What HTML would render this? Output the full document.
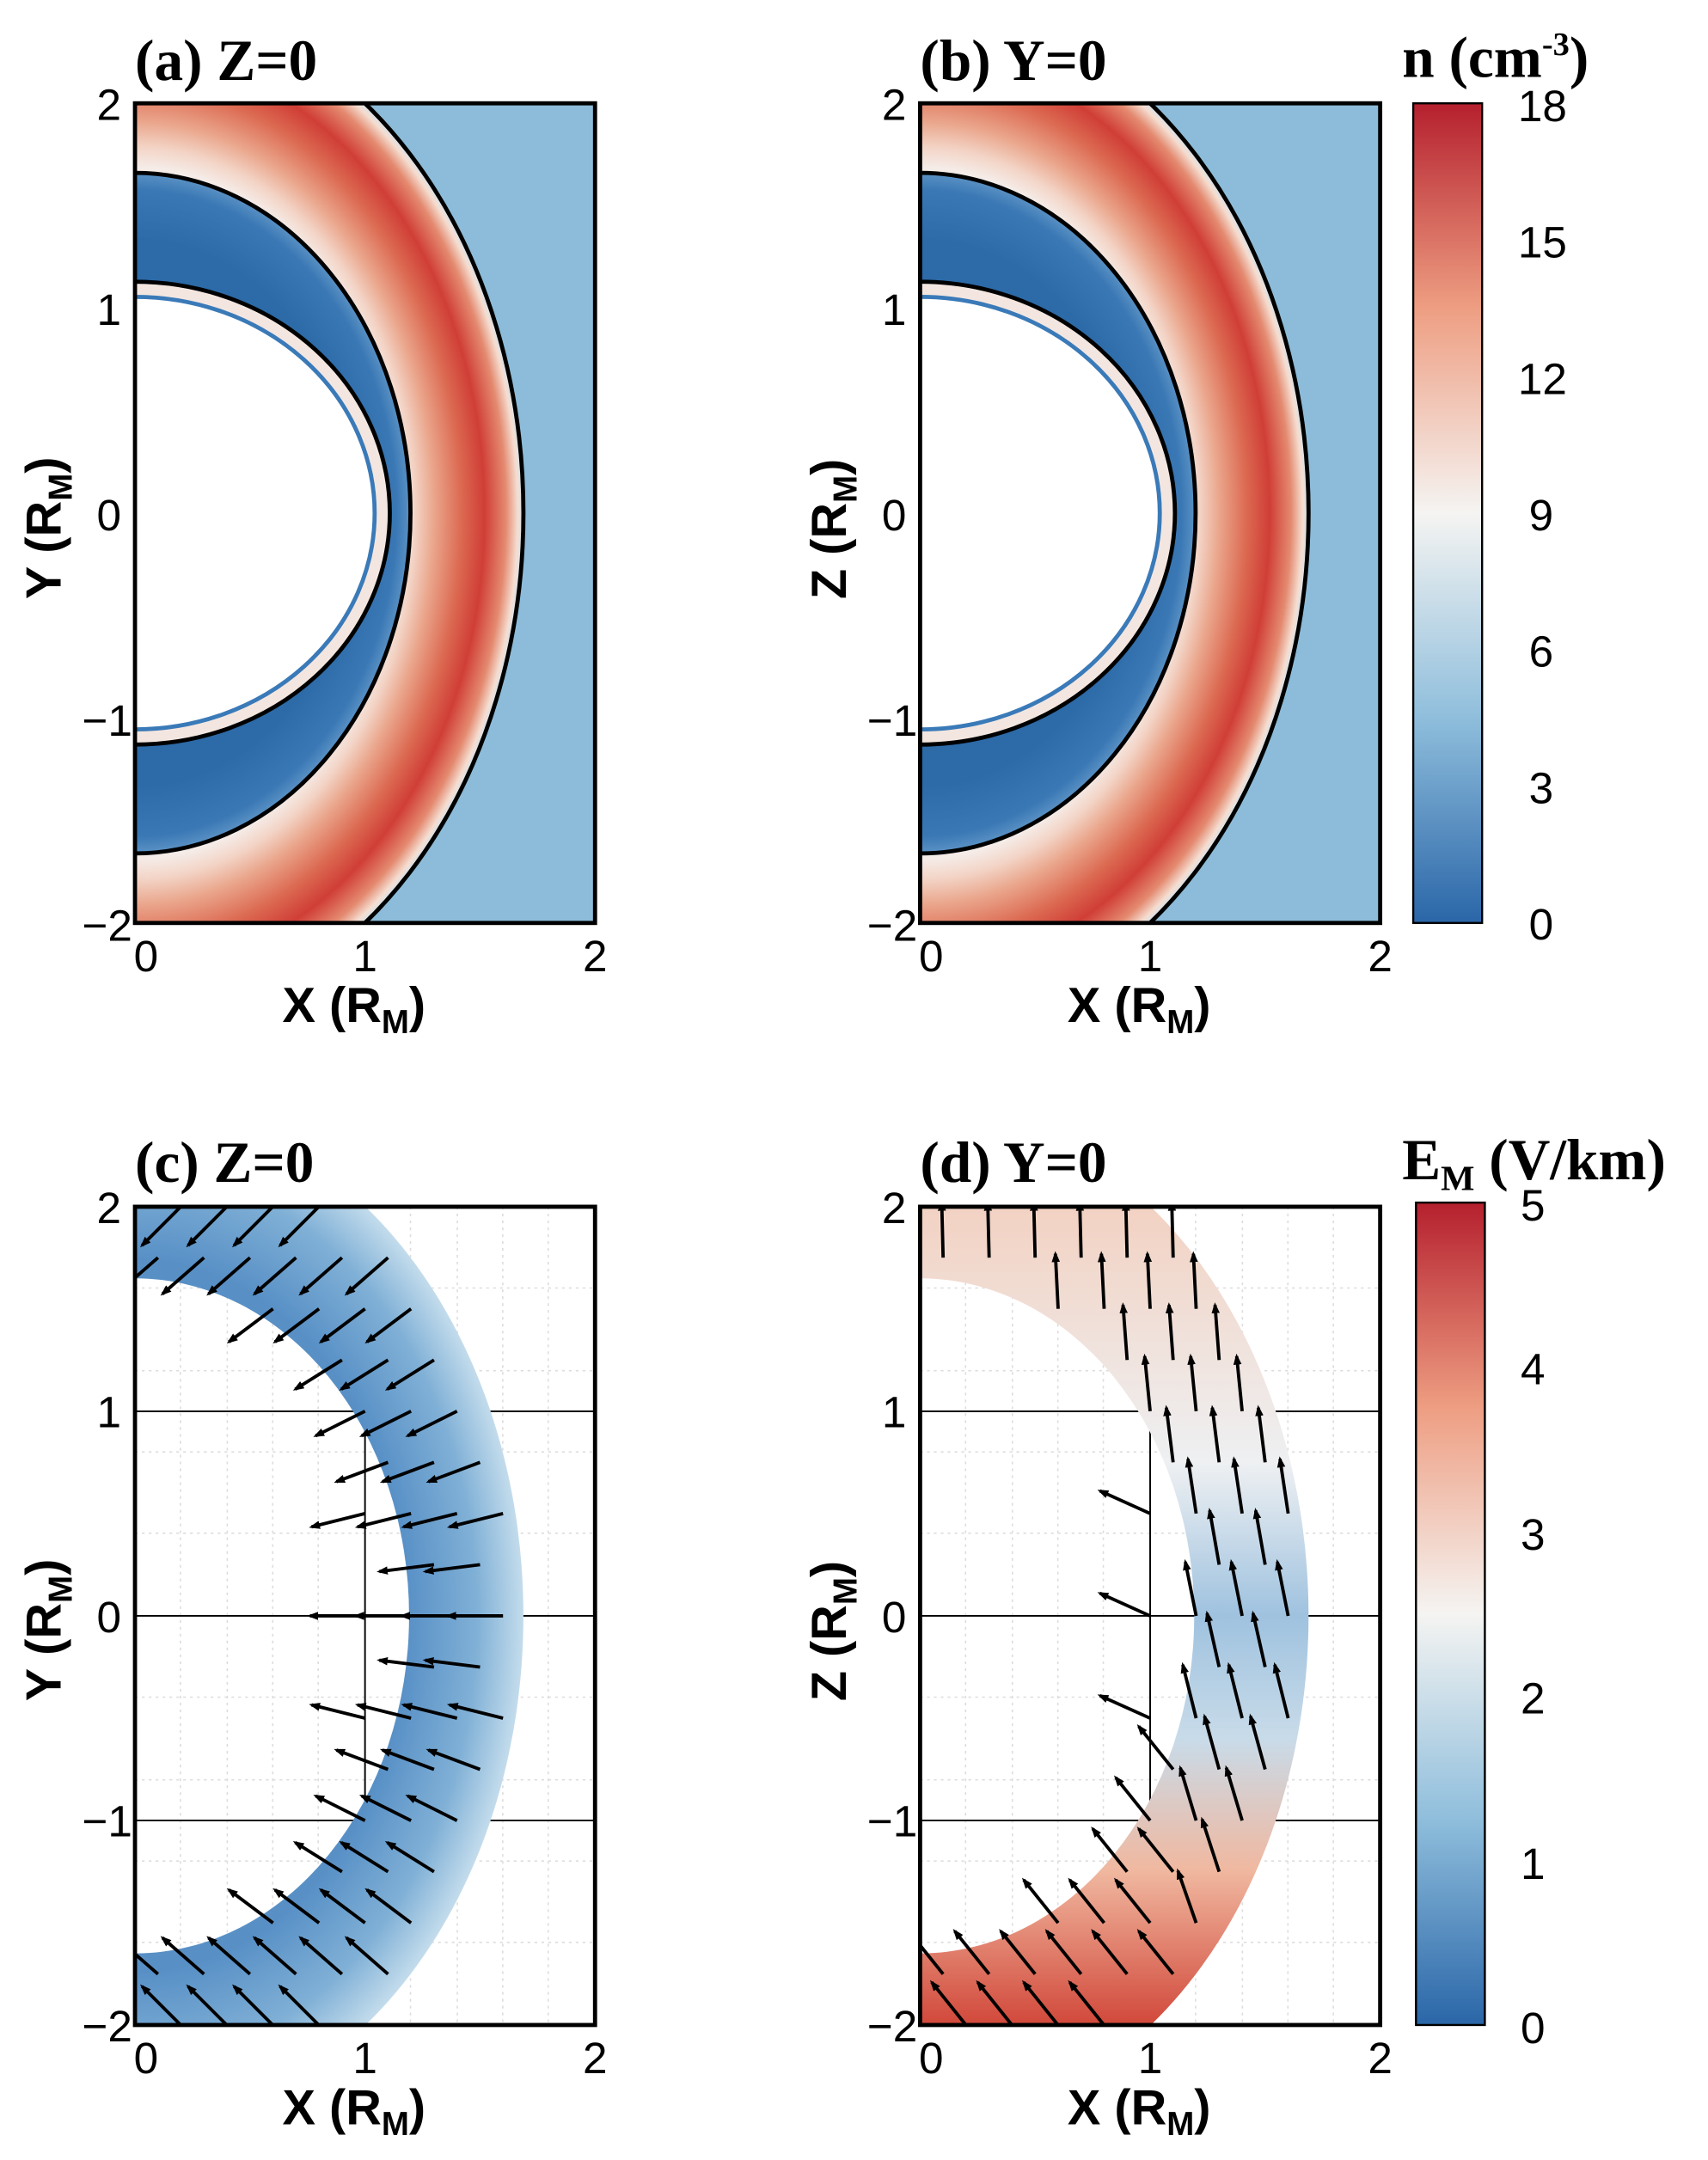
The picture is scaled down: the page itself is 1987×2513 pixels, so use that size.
<!DOCTYPE html>
<html><head><meta charset="utf-8"><style>html,body{margin:0;padding:0;background:#fff}svg{display:block}</style></head>
<body>
<svg id="s" width="1987" height="2513" viewBox="0 0 1240 1568" preserveAspectRatio="none" xmlns="http://www.w3.org/2000/svg" font-family="Liberation Sans, sans-serif">
<defs>
<radialGradient id="sheath" cx="0.5" cy="0.5" r="0.5">
<stop offset="0.68" stop-color="#f5ece8"/>
<stop offset="0.72" stop-color="#f3d4c6"/>
<stop offset="0.77" stop-color="#eaa68c"/>
<stop offset="0.84" stop-color="#dc6a52"/>
<stop offset="0.9" stop-color="#d03e36"/>
<stop offset="0.955" stop-color="#e48a70"/>
<stop offset="0.985" stop-color="#f5ddd0"/>
<stop offset="1" stop-color="#d4e3ee"/>
</radialGradient>
<radialGradient id="dark" cx="0.5" cy="0.5" r="0.5">
<stop offset="0.8" stop-color="#2c6aa8"/>
<stop offset="0.95" stop-color="#3a78b5"/>
<stop offset="1" stop-color="#5b92c4"/>
</radialGradient>
<linearGradient id="cb" x1="0" y1="1" x2="0" y2="0">
<stop offset="0" stop-color="#2a66a8"/>
<stop offset="0.25" stop-color="#8fbedc"/>
<stop offset="0.5" stop-color="#f5f4f2"/>
<stop offset="0.75" stop-color="#ee9e82"/>
<stop offset="1" stop-color="#b5202e"/>
</linearGradient>
<radialGradient id="ringc" cx="0.5" cy="0.5" r="0.5">
<stop offset="0.7" stop-color="#5890c6"/>
<stop offset="0.88" stop-color="#80b0d6"/>
<stop offset="1" stop-color="#c3dcec"/>
</radialGradient>
<linearGradient id="ringd" x1="0" y1="0" x2="0" y2="1">
<stop offset="0" stop-color="#f4c6b0"/>
<stop offset="0.35" stop-color="#eef0f2"/>
<stop offset="0.5" stop-color="#9fc2df"/>
<stop offset="0.62" stop-color="#c8dbe9"/>
<stop offset="0.75" stop-color="#f0b8a0"/>
<stop offset="0.9" stop-color="#d24a3c"/>
<stop offset="1" stop-color="#c23434"/>
</linearGradient>
<marker id="ah" markerWidth="8" markerHeight="8" refX="6" refY="3" orient="auto" markerUnits="userSpaceOnUse"><path d="M0,0 L8,3 L0,6 z" fill="#000"/></marker>
<clipPath id="ca"><rect x="98" y="75" width="334" height="595"/></clipPath>
<clipPath id="cbb"><rect x="668" y="75" width="334" height="595"/></clipPath>
<clipPath id="cc"><rect x="98" y="876" width="334" height="594"/></clipPath>
<clipPath id="cd"><rect x="668" y="876" width="334" height="594"/></clipPath>
</defs>

<g clip-path="url(#ca)">
<rect x="98" y="75" width="334" height="595" fill="#8cbcd9"/>
<ellipse cx="98" cy="372.5" rx="282" ry="369" fill="url(#sheath)" stroke="#000" stroke-width="3"/>
<ellipse cx="98" cy="372.5" rx="200" ry="247" fill="url(#dark)" stroke="#000" stroke-width="3"/>
<ellipse cx="98" cy="372.5" rx="185" ry="168" fill="#f3e6e0" stroke="#000" stroke-width="3"/>
<ellipse cx="98" cy="372.5" rx="174" ry="157" fill="#fff" stroke="#3a7ab8" stroke-width="3"/>
</g>
<rect x="98" y="75" width="334" height="595" fill="none" stroke="#000" stroke-width="3"/>
<g clip-path="url(#cbb)">
<rect x="668" y="75" width="334" height="595" fill="#8cbcd9"/>
<ellipse cx="668" cy="372.5" rx="282" ry="369" fill="url(#sheath)" stroke="#000" stroke-width="3"/>
<ellipse cx="668" cy="372.5" rx="200" ry="247" fill="url(#dark)" stroke="#000" stroke-width="3"/>
<ellipse cx="668" cy="372.5" rx="185" ry="168" fill="#f3e6e0" stroke="#000" stroke-width="3"/>
<ellipse cx="668" cy="372.5" rx="174" ry="157" fill="#fff" stroke="#3a7ab8" stroke-width="3"/>
</g>
<rect x="668" y="75" width="334" height="595" fill="none" stroke="#000" stroke-width="3"/>

<g clip-path="url(#cc)">
<rect x="98" y="876" width="334" height="594" fill="#fff"/>
<g stroke="#ddd" stroke-width="1" stroke-dasharray="2,3">
<line x1="131" y1="876" x2="131" y2="1470"/><line x1="165" y1="876" x2="165" y2="1470"/><line x1="198" y1="876" x2="198" y2="1470"/><line x1="231" y1="876" x2="231" y2="1470"/><line x1="298" y1="876" x2="298" y2="1470"/><line x1="332" y1="876" x2="332" y2="1470"/><line x1="365" y1="876" x2="365" y2="1470"/><line x1="398" y1="876" x2="398" y2="1470"/>
<line x1="98" y1="935" x2="432" y2="935"/><line x1="98" y1="995" x2="432" y2="995"/><line x1="98" y1="1054" x2="432" y2="1054"/><line x1="98" y1="1113" x2="432" y2="1113"/><line x1="98" y1="1232" x2="432" y2="1232"/><line x1="98" y1="1292" x2="432" y2="1292"/><line x1="98" y1="1351" x2="432" y2="1351"/><line x1="98" y1="1410" x2="432" y2="1410"/>
</g>
<g stroke="#000" stroke-width="1.2"><line x1="98" y1="1024.5" x2="432" y2="1024.5"/><line x1="98" y1="1173" x2="432" y2="1173"/><line x1="98" y1="1321.5" x2="432" y2="1321.5"/><line x1="265" y1="1024.5" x2="265" y2="1321.5"/></g>
<path fill-rule="evenodd" fill="url(#ringc)" d="M-184,1173 a282,369 0 1,0 564,0 a282,369 0 1,0 -564,0 Z M-101,1173 a199,245 0 1,0 398,0 a199,245 0 1,0 -398,0 Z"/>
<g id="ac"></g>
</g>
<rect x="98" y="876" width="334" height="594" fill="none" stroke="#000" stroke-width="3"/>

<g clip-path="url(#cd)">
<rect x="668" y="876" width="334" height="594" fill="#fff"/>
<g stroke="#ddd" stroke-width="1" stroke-dasharray="2,3">
<line x1="701" y1="876" x2="701" y2="1470"/><line x1="735" y1="876" x2="735" y2="1470"/><line x1="768" y1="876" x2="768" y2="1470"/><line x1="801" y1="876" x2="801" y2="1470"/><line x1="868" y1="876" x2="868" y2="1470"/><line x1="902" y1="876" x2="902" y2="1470"/><line x1="935" y1="876" x2="935" y2="1470"/><line x1="968" y1="876" x2="968" y2="1470"/>
<line x1="668" y1="935" x2="1002" y2="935"/><line x1="668" y1="995" x2="1002" y2="995"/><line x1="668" y1="1054" x2="1002" y2="1054"/><line x1="668" y1="1113" x2="1002" y2="1113"/><line x1="668" y1="1232" x2="1002" y2="1232"/><line x1="668" y1="1292" x2="1002" y2="1292"/><line x1="668" y1="1351" x2="1002" y2="1351"/><line x1="668" y1="1410" x2="1002" y2="1410"/>
</g>
<g stroke="#000" stroke-width="1.2"><line x1="668" y1="1024.5" x2="1002" y2="1024.5"/><line x1="668" y1="1173" x2="1002" y2="1173"/><line x1="668" y1="1321.5" x2="1002" y2="1321.5"/><line x1="835" y1="1024.5" x2="835" y2="1321.5"/></g>
<path fill-rule="evenodd" fill="url(#ringd)" d="M386,1173 a282,369 0 1,0 564,0 a282,369 0 1,0 -564,0 Z M469,1173 a199,245 0 1,0 398,0 a199,245 0 1,0 -398,0 Z"/>
<g id="ad"></g>
</g>
<rect x="668" y="876" width="334" height="594" fill="none" stroke="#000" stroke-width="3"/>

<rect x="1026" y="75" width="50" height="595" fill="url(#cb)" stroke="#000" stroke-width="1.5"/>
<rect x="1028" y="873" width="50" height="597" fill="url(#cb)" stroke="#000" stroke-width="1.5"/>
<g font-size="32" fill="#000">
<text x="1102" y="88">18</text><text x="1102" y="187">15</text><text x="1102" y="286">12</text><text x="1110" y="385">9</text><text x="1110" y="484">6</text><text x="1110" y="583">3</text><text x="1110" y="682">0</text>
<text x="1104" y="886">5</text><text x="1104" y="1005">4</text><text x="1104" y="1125">3</text><text x="1104" y="1244">2</text><text x="1104" y="1364">1</text><text x="1104" y="1483">0</text>
</g>
<g font-family="Liberation Serif, serif" font-weight="bold" font-size="42">
<text x="1018" y="56">n (cm<tspan font-size="24" dy="-16">-3</tspan><tspan dy="16">)</tspan></text>
<text x="1018" y="856">E<tspan font-size="26" dy="8">M</tspan><tspan dy="-8"> (V/km)</tspan></text>
<text x="98" y="58">(a) Z=0</text>
<text x="668" y="58">(b) Y=0</text>
<text x="98" y="858">(c) Z=0</text>
<text x="668" y="858">(d) Y=0</text>
</g>

<g font-size="32" fill="#000" text-anchor="middle">
<text x="106" y="705">0</text><text x="265" y="705">1</text><text x="432" y="705">2</text>
<text x="676" y="705">0</text><text x="835" y="705">1</text><text x="1002" y="705">2</text>
<text x="106" y="1505">0</text><text x="265" y="1505">1</text><text x="432" y="1505">2</text>
<text x="676" y="1505">0</text><text x="835" y="1505">1</text><text x="1002" y="1505">2</text>
</g>
<g font-size="32" fill="#000" text-anchor="end">
<text x="88" y="87">2</text><text x="88" y="236">1</text><text x="88" y="385">0</text><text x="96" y="534">−1</text><text x="96" y="683">−2</text>
<text x="658" y="87">2</text><text x="658" y="236">1</text><text x="658" y="385">0</text><text x="666" y="534">−1</text><text x="666" y="683">−2</text>
<text x="88" y="888">2</text><text x="88" y="1036">1</text><text x="88" y="1185">0</text><text x="96" y="1333">−1</text><text x="96" y="1482">−2</text>
<text x="658" y="888">2</text><text x="658" y="1036">1</text><text x="658" y="1185">0</text><text x="666" y="1333">−1</text><text x="666" y="1482">−2</text>
</g>
<g font-size="36" font-weight="bold" fill="#000">
<text x="205" y="742">X (R<tspan font-size="24" dy="8">M</tspan><tspan dy="-8">)</tspan></text>
<text x="775" y="742">X (R<tspan font-size="24" dy="8">M</tspan><tspan dy="-8">)</tspan></text>
<text x="205" y="1542">X (R<tspan font-size="24" dy="8">M</tspan><tspan dy="-8">)</tspan></text>
<text x="775" y="1542">X (R<tspan font-size="24" dy="8">M</tspan><tspan dy="-8">)</tspan></text>
<text transform="translate(44,435) rotate(-90)">Y (R<tspan font-size="24" dy="8">M</tspan><tspan dy="-8">)</tspan></text>
<text transform="translate(614,435) rotate(-90)">Z (R<tspan font-size="24" dy="8">M</tspan><tspan dy="-8">)</tspan></text>
<text transform="translate(44,1235) rotate(-90)">Y (R<tspan font-size="24" dy="8">M</tspan><tspan dy="-8">)</tspan></text>
<text transform="translate(614,1235) rotate(-90)">Z (R<tspan font-size="24" dy="8">M</tspan><tspan dy="-8">)</tspan></text>
</g>
</svg>
<script>
(function(){
var ns="http://www.w3.org/2000/svg";
function add(g,ox,oy,mode){
  for(var r=0;r<=16;r++){
    var y=2-r*0.25;
    for(var xi=0;xi<=10;xi++){
      var x=xi*0.2+(r%2?0.1:0);
      var o=(x*x)/(1.69*1.69)+(y*y)/(2.48*2.48), i=(x*x)/(1.19*1.19)+(y*y)/(1.65*1.65);
      var inside = o<1 && i>1;
      var near = Math.abs(x-1)<0.06 && Math.abs(y)<0.9;
      if(!inside && !near) continue;
      var dx,dy;
      if(mode==0){dx=-1;dy=-0.5*y;}
      else{ if(near&&!inside){dx=-1;dy=0.45;} else if(y<-0.6 && x<1.2){dx=-0.8;dy=1;} else {dx=-0.2+0.1*y;dy=1;} }
      var L=Math.sqrt(dx*dx+dy*dy),len=40;
      var px=ox+x*167, py=oy-y*148.6;
      var ex=px+dx/L*len, ey=py-dy/L*len;
      var l=document.createElementNS(ns,"line");
      l.setAttribute("x1",px);l.setAttribute("y1",py);l.setAttribute("x2",ex);l.setAttribute("y2",ey);
      l.setAttribute("stroke","#000");l.setAttribute("stroke-width","2.4");l.setAttribute("marker-end","url(#ah)");
      g.appendChild(l);
    }
  }
}
add(document.getElementById("ac"),98,1173,0);add(document.getElementById("ad"),668,1173,1);
})();
</script>
</body></html>
